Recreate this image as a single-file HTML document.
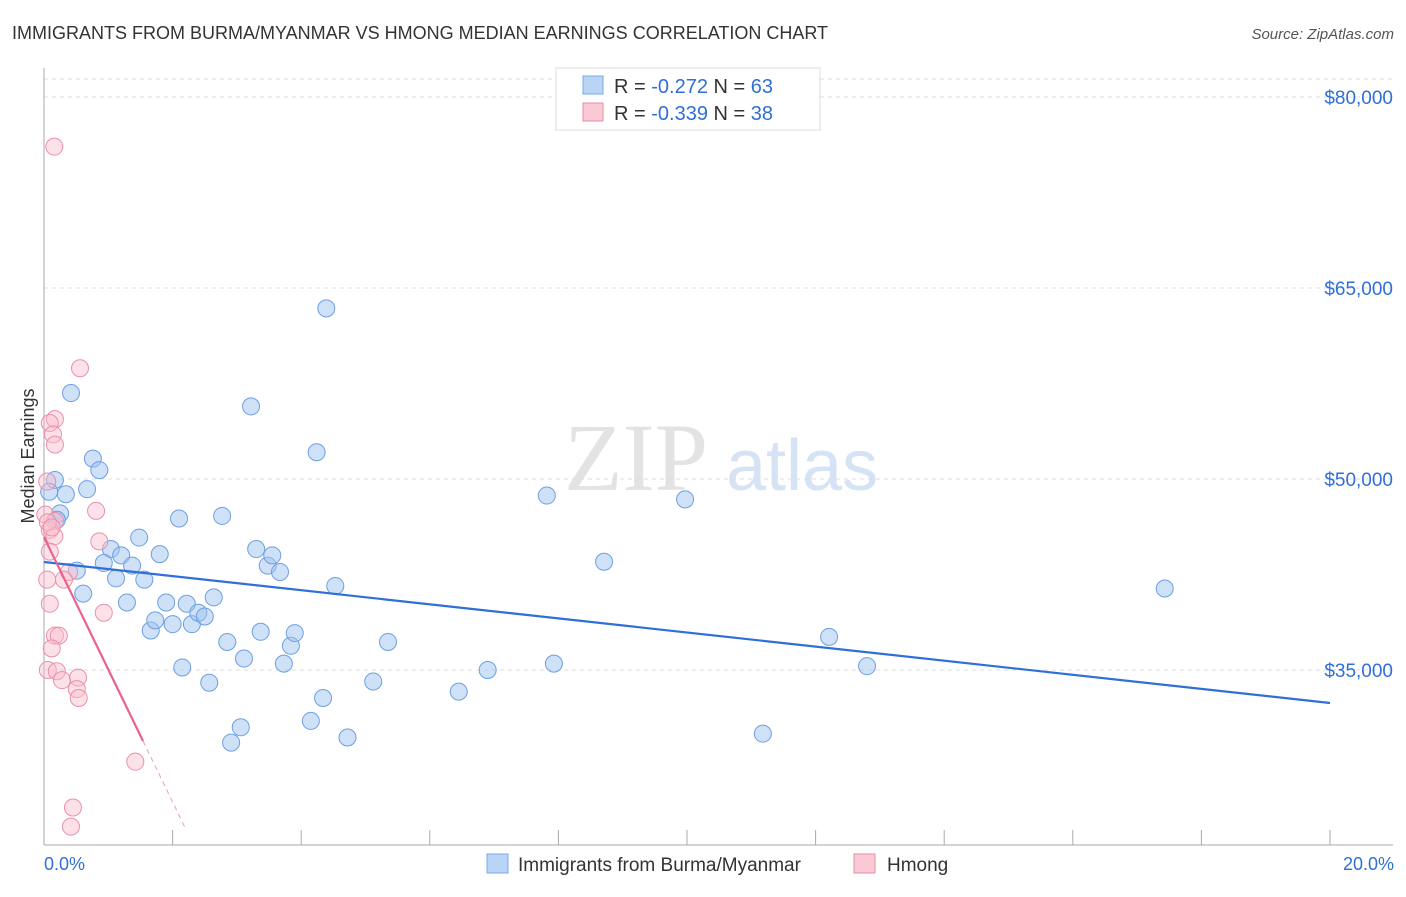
<!DOCTYPE html>
<html><head><meta charset="utf-8"><style>
body{margin:0;background:#fff;font-family:"Liberation Sans",sans-serif;}
</style></head><body>
<svg width="1406" height="892" xmlns="http://www.w3.org/2000/svg" font-family="Liberation Sans, sans-serif">
<text x="12" y="39" font-size="18" fill="#333">IMMIGRANTS FROM BURMA/MYANMAR VS HMONG MEDIAN EARNINGS CORRELATION CHART</text>
<text x="1394" y="39" font-size="15" fill="#555" font-style="italic" text-anchor="end">Source: ZipAtlas.com</text>
<g>
<text x="636" y="490" font-size="96" fill="#e3e3e3" font-family="Liberation Serif, serif" text-anchor="middle">ZIP</text>
<text x="802" y="490" font-size="72" fill="#d5e3f5" text-anchor="middle">atlas</text>
</g>
<g id="grid"></g>
<g id="axes"></g>
<g id="marks"></g>
<text transform="translate(34,456) rotate(-90)" font-size="18" fill="#333" text-anchor="middle">Median Earnings</text>
<g>
<rect x="556" y="68" width="264" height="62" fill="#fff" stroke="#ddd"/>
<rect x="583" y="76" width="20" height="18" fill="#b9d4f5" stroke="#7aa8e8"/>
<text x="614" y="93" font-size="20" fill="#333">R = <tspan fill="#2f6fd8">-0.272</tspan>   N = <tspan fill="#2f6fd8">63</tspan></text>
<rect x="583" y="103" width="20" height="18" fill="#f9c9d6" stroke="#ec8aa6"/>
<text x="614" y="120" font-size="20" fill="#333">R = <tspan fill="#2f6fd8">-0.339</tspan>   N = <tspan fill="#2f6fd8">38</tspan></text>
</g>
<g>
<rect x="487" y="854" width="21" height="19" fill="#b9d4f5" stroke="#7aa8e8"/>
<text x="518" y="871" font-size="19" fill="#333">Immigrants from Burma/Myanmar</text>
<rect x="854" y="854" width="21" height="19" fill="#f9c9d6" stroke="#ec8aa6"/>
<text x="887" y="871" font-size="19" fill="#333">Hmong</text>
</g>
<text x="44" y="870" font-size="18" fill="#2f6fd8">0.0%</text>
<text x="1394" y="870" font-size="18" fill="#2f6fd8" text-anchor="end">20.0%</text>
</svg>
<script>
const yTicks=[80000,65000,50000,35000];
const yTickLabels=["$80,000","$65,000","$50,000","$35,000"];
const burmaX=[0.42,0.17,0.08,0.34,0.67,0.76,0.86,0.25,0.2,0.51,0.61,1.04,0.93,1.2,1.12,1.37,1.48,1.56,1.29,1.8,2.1,1.66,1.73,1.9,2.0,2.22,2.3,2.4,2.5,2.64,2.77,2.15,2.57,2.85,3.11,3.06,2.91,3.22,3.3,3.37,3.48,3.55,3.67,3.73,3.84,3.9,4.15,4.24,4.34,4.39,4.53,4.72,5.12,5.35,6.45,6.9,7.82,7.93,8.71,9.97,11.18,12.21,12.8,17.43];
const burmaY=[56750,49920,49000,48800,49200,51600,50700,47300,46800,42800,41000,44500,43400,44000,42200,43200,45400,42100,40300,44100,46900,38100,38900,40300,38600,40200,38600,39500,39200,40700,47100,35200,34000,37200,35900,30500,29300,55700,44500,38000,43200,44000,42700,35500,36900,37900,31000,52100,32800,63400,41600,29700,34100,37200,33300,35000,48700,35500,43500,48400,30000,37600,35300,41400];
const hmongX=[0.16,0.56,0.17,0.09,0.14,0.17,0.05,0.81,0.02,0.17,0.09,0.16,0.06,0.12,0.86,0.09,0.39,0.31,0.05,0.09,0.93,0.17,0.23,0.12,0.06,0.2,0.28,0.53,0.51,0.54,1.42,0.45,0.42];
const hmongY=[76100,58700,54700,54400,53500,52700,49800,47500,47200,46700,46000,45500,46600,46200,45100,44300,42700,42100,42100,40200,39500,37700,37700,36700,35000,34900,34200,34400,33500,32800,27800,24200,22700];
const burmaTrend=[43480,32410]; // values at 0% and 20%
const hmongTrend=[45440,-10400]; // intercept, slope per %
const hmongSolidEnd=1.54, hmongDashEnd=2.19;

const NS="http://www.w3.org/2000/svg";
const xs=p=>44+p*64.3;
const ys=v=>97+(80000-v)*191/15000;
function mk(tag,attrs,parent){const e=document.createElementNS(NS,tag);for(const k in attrs)e.setAttribute(k,attrs[k]);document.getElementById(parent).appendChild(e);return e;}
let g=mk('line',{x1:44,x2:1393,y1:79,y2:79,stroke:'#ddd','stroke-dasharray':'4,4'},'grid');


yTicks.forEach((v,i)=>{
 const l=mk('line',{x1:44,x2:1393,y1:ys(v),y2:ys(v),stroke:'#ddd','stroke-dasharray':'4,4'},'grid');
 
 
 const t=mk('text',{x:1393,y:ys(v)+7,'font-size':19,fill:'#2f6fd8','text-anchor':'end'},'grid');
 t.textContent=yTickLabels[i];
 
 
});
let a=mk('line',{x1:44,x2:44,y1:68,y2:845,stroke:'#aaa'},'axes');


a=mk('line',{x1:44,x2:1393,y1:845,y2:845,stroke:'#aaa'},'axes');


for(let i=0;i<=10;i++){
 const t=mk('line',{x1:xs(i*2),x2:xs(i*2),y1:830,y2:845,stroke:'#aaa'},'axes');
 
 
}
burmaX.forEach((x,i)=>{
 const c=mk('circle',{cx:xs(x),cy:ys(burmaY[i]),r:8.5,fill:'rgba(160,196,240,0.5)',stroke:'#6d9fe3','stroke-width':1},'marks');
 
 
});
hmongX.forEach((x,i)=>{
 const c=mk('circle',{cx:xs(x),cy:ys(hmongY[i]),r:8.5,fill:'rgba(248,190,205,0.45)',stroke:'#ec8fab','stroke-width':1},'marks');
 
 
});
let tl=mk('line',{x1:xs(0),y1:ys(burmaTrend[0]),x2:xs(20),y2:ys(burmaTrend[1]),stroke:'#2f6fd8','stroke-width':2.2},'marks');


const hy=p=>hmongTrend[0]+hmongTrend[1]*p;
tl=mk('line',{x1:xs(0),y1:ys(hy(0)),x2:xs(hmongSolidEnd),y2:ys(hy(hmongSolidEnd)),stroke:'#e8628c','stroke-width':2.2},'marks');


tl=mk('line',{x1:xs(hmongSolidEnd),y1:ys(hy(hmongSolidEnd)),x2:xs(hmongDashEnd),y2:ys(hy(hmongDashEnd)),stroke:'#e8a0b6','stroke-width':1,'stroke-dasharray':'5,4'},'marks');


</script>
</body></html>
